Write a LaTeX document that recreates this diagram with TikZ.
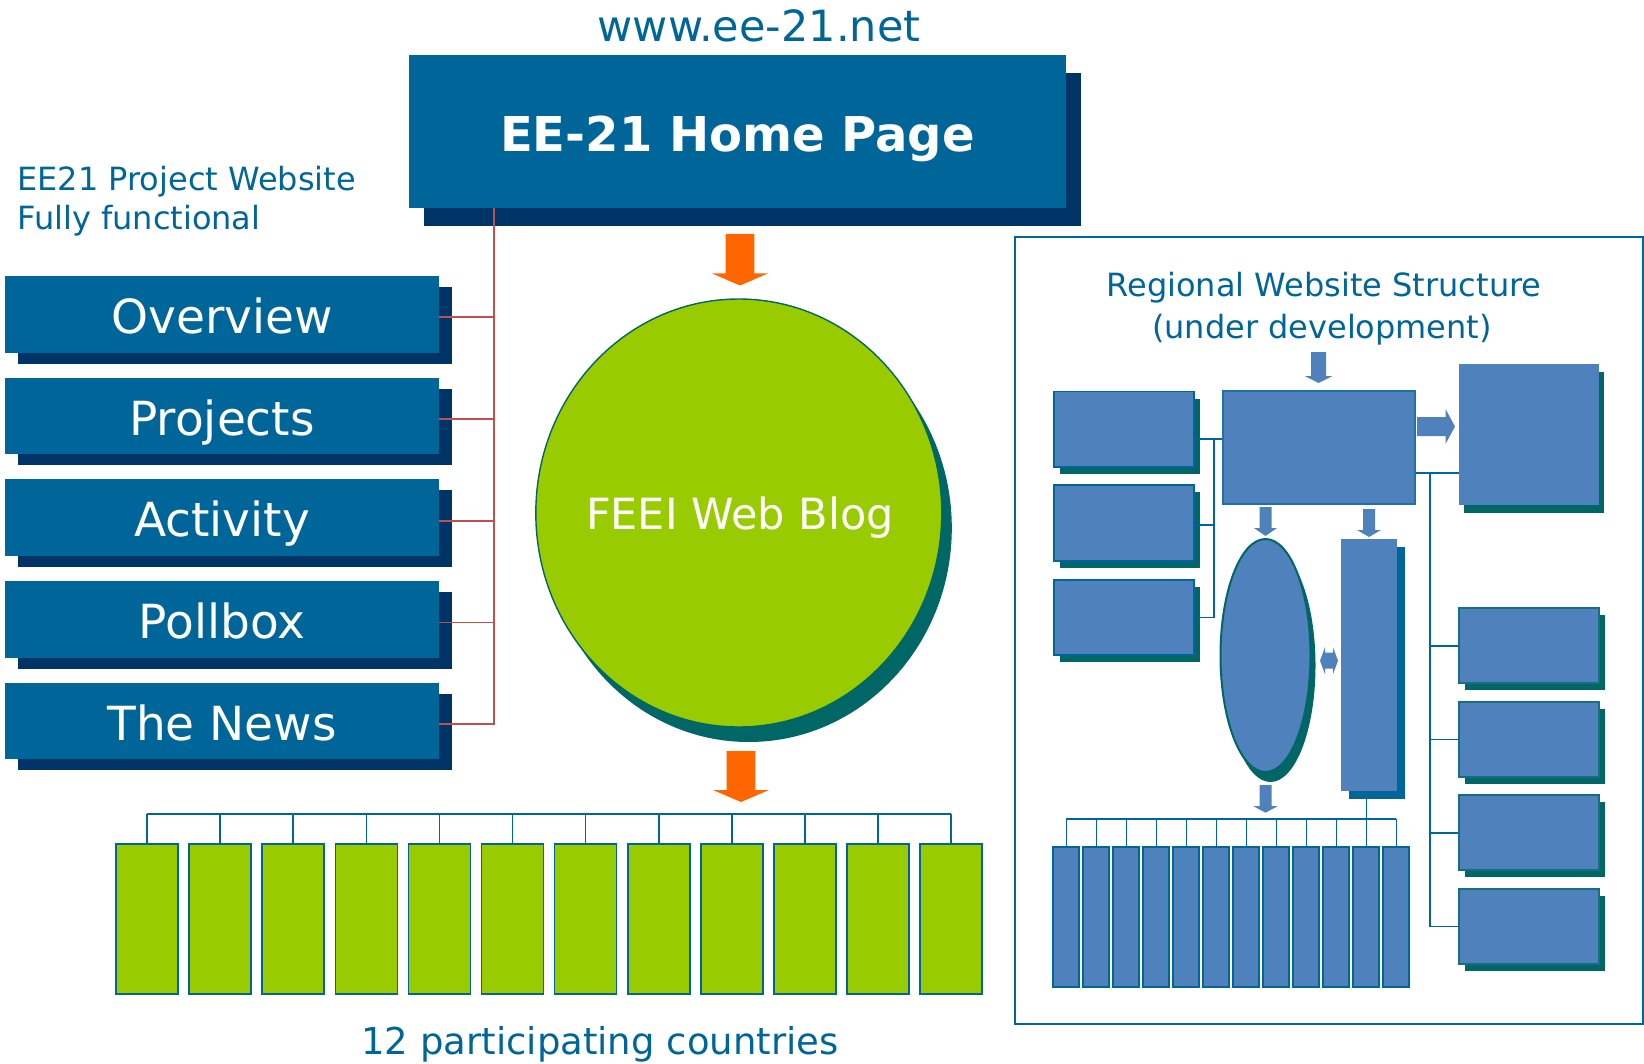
\documentclass[tikz,border=0pt]{standalone}
\usepackage{fontspec}
\setmainfont{DejaVu Sans}
\usetikzlibrary{shapes.geometric,shadows}
\definecolor{eeblue}{HTML}{006699}
\definecolor{eenavy}{HTML}{003366}
\definecolor{eegreen}{HTML}{99CC00}
\definecolor{eeteal}{HTML}{006666}
\definecolor{eeorange}{HTML}{FF6600}
\definecolor{eered}{HTML}{C0504D}
\definecolor{boxblue}{HTML}{4F81BD}
\tikzset{solid shadow/.style n args={3}{drop shadow={shadow xshift=#1, shadow yshift=#2, fill=#3, opacity=1}}}
\tikzstyle{caption text}=[text=eeblue, inner sep=0pt, font=\fontsize{16}{19}\selectfont]
\tikzstyle{home box}=[rectangle, fill=eeblue, text=white, inner sep=0pt, minimum width=328.5pt, minimum height=76.5pt, text height=20.5pt, text depth=0pt, font=\fontsize{24}{28}\selectfont\bfseries, solid shadow={7.5pt}{-9pt}{eenavy}]
\tikzstyle{menu box}=[rectangle, fill=eeblue, text=white, inner sep=0pt, minimum width=217pt, minimum height=38.25pt, text height=19.1pt, text depth=0pt, font=\fontsize{23.5}{28}\selectfont, solid shadow={6.5pt}{-5.5pt}{eenavy}]
\tikzstyle{menu link}=[draw=eered, line width=0.8pt]
\tikzstyle{blog disc}=[ellipse, fill=eegreen, draw=eeteal, line width=0.7pt, inner sep=0pt, minimum width=203pt, minimum height=214pt, solid shadow={5pt}{-7.5pt}{eeteal}]
\tikzstyle{blog text}=[text=white, inner sep=0pt, text height=15.7pt, text depth=0pt, font=\fontsize{21.5}{26}\selectfont]
\tikzstyle{country bar}=[rectangle, fill=eegreen, draw=eeblue, line width=0.8pt, inner sep=0pt, minimum width=31pt, minimum height=75pt]
\tikzstyle{bus line}=[draw=eeblue, line width=0.8pt]
\tikzstyle{region box}=[rectangle, fill=boxblue, draw=eeblue, line width=0.9pt, inner sep=0pt, minimum width=70pt, minimum height=37.75pt, solid shadow={3pt}{-3.5pt}{eeteal}]
\tikzstyle{region side box}=[region box, draw=eeteal!70!boxblue, minimum height=37.5pt]
\tikzstyle{region bar}=[rectangle, fill=boxblue, draw=eeblue, line width=0.9pt, inner sep=0pt, minimum width=13pt, minimum height=70.15pt]
% block arrow pointing down: colour, x, top, head start, tip, half shaft, half head
\newcommand{\downblock}[7]{\fill[#1] (#2-#6,#3) -- (#2+#6,#3) -- (#2+#6,#4) -- (#2+#7,#4) -- (#2,#5) -- (#2-#7,#4) -- (#2-#6,#4) -- cycle;}

\begin{document}
\begin{tikzpicture}[x=0.5pt, y=-0.5pt]
    \useasboundingbox (0,0) rectangle (1644,1064);
    % Home page and its address
    \node[caption text, anchor=base, font=\fontsize{21.5}{26}\selectfont] (url) at (759,41.7) {www.ee-21.net};
    \node[home box] (home) at (737.5,131.5) {EE-21 Home Page};
    \node[caption text, anchor=base west] (sitecap) at (17,190.7) {EE21 Project Website};
    \node[caption text, anchor=base west] (sitestate) at (17,230) {Fully functional};

    % Menu of the project website
    \foreach \y/\name/\label in {314.3/overview/Overview, 416/projects/Projects, 517.7/activity/Activity, 619.4/pollbox/Pollbox, 721.1/news/The News}
        \node[menu box] (\name) at (222,\y) {\label};

    % Red links from the home page to the menu
    \coordinate (trunk) at (494,208);
    \draw[menu link] (trunk) |- ([yshift=-1.5pt]news.east);
    \foreach \name in {overview,projects,activity,pollbox}
        \draw[menu link] ([yshift=-1.5pt]\name.east) -- ++(55,0);

    % FEEI blog between the two orange arrows
    \node[blog disc] (blog) at (738.8,513) {};
    \node[blog text] (blogname) at (740,514) {FEEI Web Blog};
    \downblock{eeorange}{740}{234}{273.3}{285.5}{14.3}{28.3}
    \downblock{eeorange}{741}{751}{790}{802}{14.3}{28}

    % 12 participating countries
    \coordinate (gbus) at (0,814);
    \foreach \i in {1,...,12} {
        \node[country bar] (c\i) at ({147+73.1*(\i-1)},919) {};
        \draw[bus line] (c\i.north) -- (c\i.north |- gbus);
    }
    \draw[bus line] (c1.north |- gbus) -- (c12.north |- gbus);
    \node[caption text, anchor=base, font=\fontsize{18.5}{22}\selectfont] (ccap) at (600,1054) {12 participating countries};

    % Regional website structure
    \draw[eeblue, line width=0.9pt] (1015,237) rectangle (1643,1024);
    \node[caption text, anchor=base] (regcap) at (1324,297) {Regional Website Structure};
    \node[caption text, anchor=base] (regstate) at (1322,338) {(under development)};

    \node[rectangle, fill=boxblue, draw=eeblue!60!boxblue, line width=0.6pt, minimum width=96pt, minimum height=56.5pt] (central) at (1319,447.5) {};
    \node[rectangle, fill=boxblue, inner sep=0pt, minimum width=70pt, minimum height=70.5pt, solid shadow={2.5pt}{-4pt}{eeteal}] (big) at (1529,434.5) {};
    \foreach \y/\name in {429.3/rl1, 523/rl2, 617.5/rl3}
        \node[region box] (\name) at (1124,\y) {};
    \foreach \y/\name in {645.8/rb1, 739.5/rb2, 832.8/rb3, 926.4/rb4}
        \node[region side box] (\name) at (1529,\y) {};
    \node[ellipse, fill=boxblue, draw=eeteal, line width=1pt, inner sep=0pt, minimum width=45pt, minimum height=116.5pt, solid shadow={2.5pt}{-5pt}{eeteal}] (oval) at (1265.5,655.5) {};
    \node[rectangle, fill=boxblue, inner sep=0pt, minimum width=28pt, minimum height=125.85pt, solid shadow={4pt}{-4pt}{eeblue}] (tall) at (1369,664.8) {};

    % links of the left column
    \coordinate (lbus) at (1214,439);
    \draw[bus line] (rl1.east |- lbus) -- (central.west |- lbus);
    \draw[bus line] (lbus) |- (rl3.east);
    \draw[bus line] ([yshift=-1pt]rl2.east) -- ++(20,0);

    % links of the right column
    \coordinate (rtrunk) at (1430,473);
    \draw[bus line] (central.east |- rtrunk) -- (big.west |- rtrunk);
    \draw[bus line] (rtrunk) |- (rb4.west);
    \foreach \name in {rb1,rb2,rb3}
        \draw[bus line] (\name.west) -- (\name.west -| rtrunk);

    % regional pages
    \coordinate (rbus) at (0,818.7);
    \foreach \i in {1,...,12} {
        \node[region bar] (r\i) at ({1066.3+30*(\i-1)},916.85) {};
        \draw[bus line] (r\i.north) -- (r\i.north |- rbus);
    }
    \draw[bus line] (r1.north |- rbus) -- (r12.north |- rbus);
    \draw[bus line] (tall.south -| r11.north) -- (r11.north);

    % block arrows of the structure
    \downblock{boxblue}{1318.5}{352}{376}{383}{7.5}{14}
    \downblock{boxblue}{1265.5}{507}{528}{536}{6}{11.5}
    \downblock{boxblue}{1369}{509}{530}{537}{6}{12}
    \downblock{boxblue}{1265.5}{785}{806}{812.7}{6}{12.5}
    \fill[boxblue] (1417,417) -- (1445.5,417) -- (1445.5,409) -- (1455,426.5) -- (1445.5,444) -- (1445.5,436) -- (1417,436) -- cycle;
    \fill[boxblue] (1320,660.7) -- (1325,647.2) -- (1325,652.7) -- (1333,652.7) -- (1333,647.2) -- (1338,660.7) -- (1333,674.2) -- (1333,668.7) -- (1325,668.7) -- (1325,674.2) -- cycle;
\end{tikzpicture}
\end{document}
